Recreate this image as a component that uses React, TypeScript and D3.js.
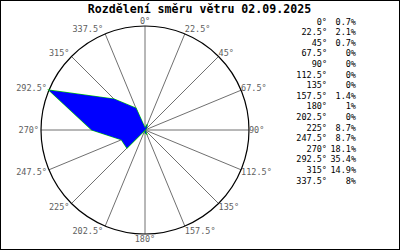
import React from "react";
import * as d3 from "d3";

const title = "Rozdělení směru větru 02.09.2025";
const directions = [0, 22.5, 45, 67.5, 90, 112.5, 135, 157.5, 180, 202.5, 225, 247.5, 270, 292.5, 315, 337.5];
const dirLabels = ["0°", "22.5°", "45°", "67.5°", "90°", "112.5°", "135°", "157.5°", "180°", "202.5°", "225°", "247.5°", "270°", "292.5°", "315°", "337.5°"];
const percents = [0.7, 2.1, 0.7, 0, 0, 0, 0, 1.4, 1, 0, 8.7, 8.7, 18.1, 35.4, 14.9, 8];
const percentLabels = ["0.7%", "2.1%", "0.7%", "0%", "0%", "0%", "0%", "1.4%", "1%", "0%", "8.7%", "8.7%", "18.1%", "35.4%", "14.9%", "8%"];

const W = 400;
const H = 250;
const cx = 145;
const cy = 130;
const R = 104;
const FONT = "'DejaVu Sans Mono', monospace";

export default function App() {
  const rScale = d3.scaleLinear().domain([0, d3.max(percents) as number]).range([0, R]);
  const toRad = (deg: number) => (deg * Math.PI) / 180;

  const pts: [number, number][] = directions.map((d, i) => {
    const a = toRad(d);
    const r = rScale(percents[i]);
    return [cx + r * Math.sin(a), cy - r * Math.cos(a)];
  });
  const line = d3.line().curve(d3.curveLinearClosed);
  const path = line(pts) || "";

  const charW = 5.12;
  const labelFs = 8.5;

  return (
    <svg
      width={W}
      height={H}
      style={{ position: "absolute", left: 0, top: 0, background: "#fff" }}
      xmlns="http://www.w3.org/2000/svg"
    >
      <rect x={0.5} y={0.5} width={W - 1} height={H - 1} fill="#fff" stroke="#000" strokeWidth={1} />
      <text
        x={199.5}
        y={13}
        textAnchor="middle"
        fontFamily={FONT}
        fontWeight="bold"
        fontSize={11.6}
        fill="#000"
      >
        {title}
      </text>

      {directions.map((d, i) => {
        const a = toRad(d);
        return (
          <line
            key={"ray" + i}
            x1={cx}
            y1={cy}
            x2={cx + R * Math.sin(a)}
            y2={cy - R * Math.cos(a)}
            stroke="#707070"
            strokeWidth={1}
          />
        );
      })}

      <circle cx={cx} cy={cy} r={R} fill="none" stroke="#000" strokeWidth={1.2} />

      <path d={path} fill="none" stroke="#00d000" strokeWidth={1.2} />
      <path d={path} fill="#0000ff" stroke="none" />

      {directions.map((d, i) => {
        const a = toRad(d);
        const s = Math.sin(a);
        const c = Math.cos(a);
        const px = cx + R * s;
        const py = cy - R * c;
        const w = dirLabels[i].length * charW;
        let xl: number;
        if (s > 0.1) xl = px;
        else if (s < -0.1) xl = px - w - 2;
        else xl = px - w / 2;
        const centerY = py - c * 5;
        return (
          <text
            key={"lab" + i}
            x={xl}
            y={centerY + 3}
            fontFamily={FONT}
            fontSize={labelFs}
            fill="#606060"
          >
            {dirLabels[i]}
          </text>
        );
      })}

      {dirLabels.map((l, i) => (
        <g key={"leg" + i}>
          <text
            x={327}
            y={24.5 + 10.6 * i}
            textAnchor="end"
            fontFamily={FONT}
            fontSize={labelFs}
            fill="#000"
          >
            {l}
          </text>
          <text
            x={356}
            y={24.5 + 10.6 * i}
            textAnchor="end"
            fontFamily={FONT}
            fontSize={labelFs}
            fill="#000"
          >
            {percentLabels[i]}
          </text>
        </g>
      ))}
    </svg>
  );
}
